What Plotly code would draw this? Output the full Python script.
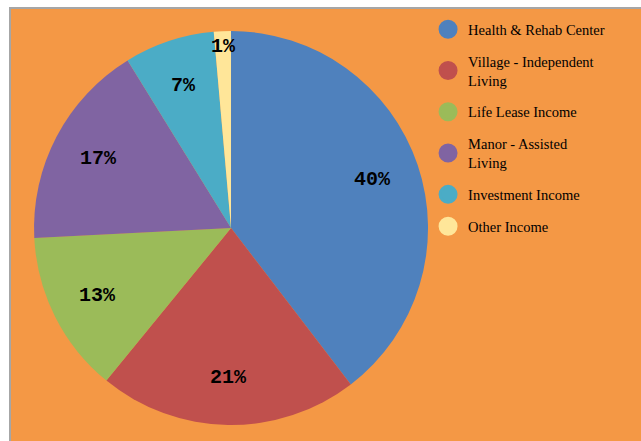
import math
import plotly.graph_objects as go

categories = ["Health & Rehab Center", "Village - Independent<br>Living", "Life Lease Income",
              "Manor - Assisted<br>Living", "Investment Income", "Other Income"]
values = [39.6, 21.3, 13.3, 17.0, 7.4, 1.4]
colors = ["#4F81BD", "#C0504D", "#9BBB59", "#8064A2", "#4BACC6", "#FFE699"]

ORANGE = "#F49845"
W, H = 641, 441
ML, MT = 11, 9
PW, PH = W - ML, H - MT

# pie domain (paper coords of plot area)
dom_x = [0.0365, 0.662]
dom_y = [0.037, 0.949]

fig = go.Figure()
fig.add_trace(go.Pie(
    labels=categories, values=values, sort=False, direction="clockwise", rotation=0,
    marker=dict(colors=colors, line=dict(width=0)),
    textinfo="none", hoverinfo="label+percent", showlegend=False,
    domain=dict(x=dom_x, y=dom_y),
))

# legend via dummy scatter traces (circle markers)
for i, (c, col) in enumerate(zip(categories, colors)):
    fig.add_trace(go.Scatter(
        x=[None], y=[None], mode="markers", name=c, legendgroup=f"g{i}",
        marker=dict(size=16, color=col, symbol="circle", line=dict(width=3, color=col)),
    ))

# percentage labels placed from data
total = sum(values)
cx = (dom_x[0] + dom_x[1]) / 2
cy = (dom_y[0] + dom_y[1]) / 2
R = min((dom_x[1] - dom_x[0]) * PW, (dom_y[1] - dom_y[0]) * PH) / 2
cum = 0
annotations = []
for v in values:
    mid = (cum + v / 2) / total * 2 * math.pi
    cum += v
    frac = 0.76 if v / total > 0.03 else 0.92
    annotations.append(dict(
        x=cx, y=cy, xref="paper", yref="paper", showarrow=False,
        xshift=R * frac * math.sin(mid), yshift=R * frac * math.cos(mid),
        text=f"<b>{round(v / total * 100)}%</b>",
        font=dict(family="Liberation Mono", size=20, color="#000000"),
    ))

fig.update_layout(
    width=W, height=H,
    margin=dict(l=ML, r=0, t=MT, b=0, pad=0, autoexpand=False),
    paper_bgcolor="#FFFFFF", plot_bgcolor=ORANGE,
    annotations=annotations,
    xaxis=dict(showgrid=False, zeroline=False, showticklabels=False, ticks="", automargin=False,
               showline=True, linecolor="#A6A6A6", linewidth=2, side="top", range=[0, 1], fixedrange=True),
    yaxis=dict(showgrid=False, zeroline=False, showticklabels=False, ticks="", automargin=False,
               showline=True, linecolor="#A6A6A6", linewidth=2, side="left", range=[0, 1], fixedrange=True),
    legend=dict(x=0.662, y=0.99, xanchor="left", yanchor="top", bgcolor="rgba(0,0,0,0)",
                font=dict(family="Liberation Serif", size=14.5, color="#000000"),
                tracegroupgap=10, itemsizing="trace"),
    showlegend=True,
)

fig.write_html(
    "out.html",
    config={"displayModeBar": False},
    post_script="document.body.style.margin='0';document.body.style.padding='0';document.body.style.overflow='hidden';",
)
